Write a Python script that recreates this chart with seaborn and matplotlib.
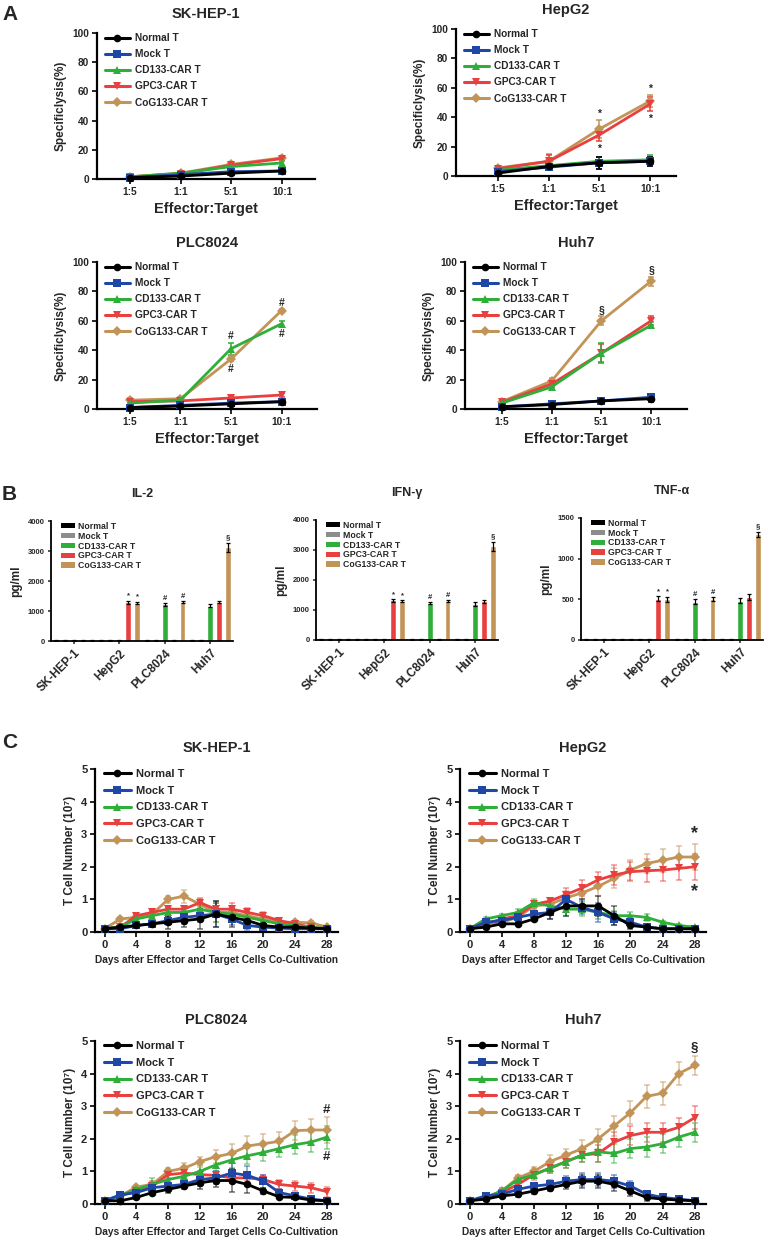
import numpy as np
import pandas as pd
import seaborn as sns
import matplotlib.pyplot as plt
from matplotlib.lines import Line2D
from matplotlib.patches import Patch

# --- DATA ---
groups = ["Normal T", "Mock T", "CD133-CAR T", "GPC3-CAR T", "CoG133-CAR T"]
line_colors = ["#000000", "#1f48a6", "#2fae3a", "#e8403f", "#c39457"]
bar_colors = ["#000000", "#8c8c8c", "#2fae3a", "#e8403f", "#c39457"]
markers = ["o", "s", "^", "v", "D"]

# A: specific lysis (%) by effector:target ratio
et_ratios = ["1:5", "1:1", "5:1", "10:1"]
lysis_skhep1 = [[1, 2, 4, 5.5], [1, 3, 5, 5.5], [1.5, 4, 8.5, 11], [1.5, 3.5, 9.5, 14], [1.5, 4, 10, 14.5]]
lysis_skhep1_sd = [[0.5, 0.5, 1, 1], [0.5, 0.5, 1, 1.5], [0.5, 1, 1.5, 2], [0.5, 1, 1.5, 1.5], [0.5, 1, 1.5, 1.5]]
lysis_hepg2 = [[2, 6.5, 9, 10], [3, 6, 9, 10], [4, 7, 10, 11], [5, 10, 28, 49], [5.5, 10, 32, 51]]
lysis_hepg2_sd = [[1, 1.5, 4, 3], [1, 1.5, 4, 3], [1, 1, 3, 3], [1, 4, 4, 5], [1, 5, 6, 4]]
lysis_plc8024 = [[1, 2, 3.5, 5], [1, 2.5, 4, 5], [4, 6, 41, 58], [5, 5.5, 7.5, 9.5], [6, 7, 34, 67]]
lysis_plc8024_sd = [[0.5, 0.5, 1, 1], [0.5, 0.5, 1, 1], [1, 1, 4, 2], [1, 1, 1, 1.5], [1.5, 1, 1.5, 1]]
lysis_huh7 = [[1.5, 3, 5.5, 7], [1.5, 3.5, 5.5, 8], [4, 15, 38, 57], [4.5, 17, 38, 60], [5, 19, 60, 87]]
lysis_huh7_sd = [[1, 1, 1, 2], [1, 1, 1, 2.5], [1, 2, 7, 2], [1, 2, 6, 3], [1, 2, 3, 3]]

# B: cytokines (pg/ml), one list per T cell group over the four cell lines
cell_lines = ["SK-HEP-1", "HepG2", "PLC8024", "Huh7"]
il2 = [[20, 20, 20, 20], [20, 20, 20, 20], [20, 20, 1220, 1180], [20, 1300, 20, 1300], [20, 1280, 1300, 3120]]
il2_sd = [[8, 8, 8, 8], [8, 8, 8, 8], [8, 8, 40, 60], [8, 50, 8, 40], [8, 30, 30, 150]]
ifng = [[20, 20, 20, 20], [20, 20, 20, 20], [20, 20, 1230, 1200], [20, 1320, 20, 1290], [20, 1290, 1300, 3120]]
ifng_sd = [[8, 8, 8, 8], [8, 8, 8, 8], [8, 8, 30, 60], [8, 40, 8, 40], [8, 30, 30, 150]]
tnfa = [[5, 5, 5, 5], [5, 5, 5, 5], [5, 5, 470, 485], [5, 510, 5, 525], [5, 500, 500, 1300]]
tnfa_sd = [[3, 3, 3, 3], [3, 3, 3, 3], [3, 3, 30, 30], [3, 25, 3, 35], [3, 30, 25, 30]]

# C: T cell number (10^7) over days of co-culture
days = [0, 2, 4, 6, 8, 10, 12, 14, 16, 18, 20, 22, 24, 26, 28]
tc_skhep1 = [
    [0.1, 0.15, 0.2, 0.25, 0.3, 0.35, 0.4, 0.55, 0.45, 0.35, 0.2, 0.15, 0.15, 0.12, 0.1],
    [0.1, 0.1, 0.2, 0.25, 0.35, 0.45, 0.5, 0.55, 0.4, 0.2, 0.15, 0.12, 0.1, 0.1, 0.1],
    [0.1, 0.15, 0.4, 0.5, 0.6, 0.6, 0.7, 0.6, 0.55, 0.45, 0.35, 0.25, 0.2, 0.15, 0.1],
    [0.1, 0.15, 0.5, 0.6, 0.7, 0.7, 0.9, 0.7, 0.7, 0.6, 0.5, 0.35, 0.25, 0.15, 0.1],
    [0.1, 0.4, 0.45, 0.55, 1.0, 1.1, 0.85, 0.6, 0.6, 0.5, 0.4, 0.3, 0.3, 0.28, 0.15],
]
tc_skhep1_sd = [
    [0.02, 0.05, 0.05, 0.1, 0.2, 0.2, 0.3, 0.4, 0.3, 0.2, 0.1, 0.05, 0.05, 0.05, 0.03],
    [0.02, 0.05, 0.05, 0.1, 0.15, 0.2, 0.2, 0.4, 0.2, 0.15, 0.1, 0.05, 0.05, 0.05, 0.03],
    [0.02, 0.05, 0.1, 0.1, 0.15, 0.2, 0.2, 0.3, 0.2, 0.15, 0.1, 0.05, 0.05, 0.05, 0.03],
    [0.02, 0.05, 0.05, 0.1, 0.1, 0.1, 0.15, 0.2, 0.2, 0.15, 0.1, 0.05, 0.05, 0.05, 0.03],
    [0.02, 0.05, 0.05, 0.1, 0.1, 0.2, 0.15, 0.3, 0.2, 0.15, 0.1, 0.05, 0.05, 0.05, 0.03],
]
tc_hepg2 = [
    [0.1, 0.15, 0.25, 0.25, 0.4, 0.6, 0.8, 0.8, 0.8, 0.5, 0.2, 0.15, 0.1, 0.1, 0.1],
    [0.1, 0.3, 0.35, 0.45, 0.55, 0.6, 1.0, 0.75, 0.6, 0.4, 0.3, 0.15, 0.1, 0.1, 0.1],
    [0.1, 0.4, 0.5, 0.6, 0.9, 0.8, 0.7, 0.7, 0.6, 0.5, 0.5, 0.45, 0.3, 0.2, 0.15],
    [0.1, 0.25, 0.4, 0.5, 0.85, 0.95, 1.15, 1.35, 1.6, 1.75, 1.85, 1.88, 1.9, 1.95, 2.0],
    [0.1, 0.25, 0.3, 0.45, 0.8, 0.85, 1.05, 1.2, 1.4, 1.65, 1.9, 2.1, 2.2, 2.3, 2.3],
]
tc_hepg2_sd = [
    [0.02, 0.05, 0.05, 0.05, 0.05, 0.2, 0.3, 0.2, 0.3, 0.3, 0.1, 0.05, 0.05, 0.05, 0.03],
    [0.02, 0.05, 0.05, 0.1, 0.1, 0.2, 0.2, 0.2, 0.3, 0.2, 0.1, 0.05, 0.05, 0.05, 0.03],
    [0.02, 0.05, 0.05, 0.1, 0.1, 0.1, 0.2, 0.2, 0.2, 0.15, 0.1, 0.1, 0.05, 0.05, 0.03],
    [0.02, 0.05, 0.1, 0.1, 0.1, 0.1, 0.2, 0.25, 0.25, 0.3, 0.3, 0.35, 0.35, 0.35, 0.4],
    [0.02, 0.05, 0.05, 0.1, 0.1, 0.1, 0.2, 0.2, 0.3, 0.3, 0.3, 0.3, 0.35, 0.35, 0.4],
]
tc_plc8024 = [
    [0.1, 0.1, 0.2, 0.35, 0.45, 0.55, 0.65, 0.72, 0.72, 0.6, 0.4, 0.22, 0.2, 0.12, 0.1],
    [0.1, 0.28, 0.35, 0.5, 0.55, 0.6, 0.75, 0.8, 0.95, 0.88, 0.7, 0.35, 0.25, 0.15, 0.1],
    [0.1, 0.25, 0.45, 0.6, 0.75, 0.85, 1.0, 1.2, 1.35, 1.48, 1.58, 1.7, 1.82, 1.9, 2.05],
    [0.1, 0.25, 0.4, 0.55, 0.9, 0.95, 0.9, 0.88, 0.8, 0.8, 0.75, 0.6, 0.55, 0.5, 0.38],
    [0.1, 0.25, 0.52, 0.6, 1.0, 1.1, 1.3, 1.45, 1.55, 1.78, 1.85, 1.92, 2.25, 2.27, 2.27],
]
tc_plc8024_sd = [
    [0.02, 0.05, 0.05, 0.05, 0.1, 0.1, 0.2, 0.2, 0.35, 0.25, 0.1, 0.05, 0.05, 0.05, 0.03],
    [0.02, 0.05, 0.05, 0.1, 0.1, 0.1, 0.2, 0.2, 0.3, 0.3, 0.2, 0.1, 0.05, 0.05, 0.03],
    [0.02, 0.05, 0.1, 0.2, 0.15, 0.15, 0.2, 0.2, 0.25, 0.25, 0.25, 0.25, 0.3, 0.3, 0.35],
    [0.02, 0.05, 0.05, 0.1, 0.1, 0.1, 0.1, 0.1, 0.1, 0.1, 0.15, 0.15, 0.15, 0.15, 0.15],
    [0.02, 0.05, 0.05, 0.1, 0.1, 0.15, 0.15, 0.2, 0.3, 0.3, 0.3, 0.3, 0.3, 0.35, 0.4],
]
tc_huh7 = [
    [0.1, 0.15, 0.25, 0.3, 0.4, 0.5, 0.6, 0.7, 0.7, 0.6, 0.4, 0.2, 0.15, 0.12, 0.1],
    [0.1, 0.25, 0.3, 0.45, 0.55, 0.6, 0.7, 0.75, 0.75, 0.7, 0.55, 0.3, 0.2, 0.15, 0.1],
    [0.1, 0.2, 0.4, 0.75, 0.9, 1.1, 1.3, 1.5, 1.6, 1.55, 1.7, 1.75, 1.85, 2.05, 2.2],
    [0.1, 0.2, 0.35, 0.6, 0.9, 1.1, 1.3, 1.5, 1.55, 1.9, 2.1, 2.2, 2.2, 2.35, 2.65],
    [0.1, 0.2, 0.4, 0.8, 1.0, 1.3, 1.5, 1.7, 2.0, 2.4, 2.8, 3.3, 3.4, 4.0, 4.25],
]
tc_huh7_sd = [
    [0.02, 0.05, 0.05, 0.1, 0.1, 0.1, 0.15, 0.2, 0.2, 0.2, 0.15, 0.1, 0.05, 0.05, 0.03],
    [0.02, 0.05, 0.05, 0.1, 0.1, 0.15, 0.15, 0.2, 0.2, 0.2, 0.15, 0.1, 0.05, 0.05, 0.03],
    [0.02, 0.05, 0.1, 0.1, 0.1, 0.15, 0.2, 0.2, 0.3, 0.3, 0.3, 0.3, 0.3, 0.3, 0.3],
    [0.02, 0.05, 0.1, 0.1, 0.15, 0.15, 0.2, 0.2, 0.25, 0.3, 0.3, 0.3, 0.3, 0.3, 0.35],
    [0.02, 0.05, 0.1, 0.1, 0.15, 0.2, 0.2, 0.25, 0.3, 0.3, 0.35, 0.35, 0.35, 0.35, 0.3],
]

# significance marks: (group index, x value, symbol, above/below)
marks_a_hepg2 = [(4, 2, "*", "above"), (3, 2, "*", "below"), (4, 3, "*", "above"), (3, 3, "*", "below")]
marks_a_plc8024 = [(2, 2, "#", "above"), (4, 2, "#", "below"), (4, 3, "#", "above"), (2, 3, "#", "below")]
marks_a_huh7 = [(4, 2, "§", "above"), (4, 3, "§", "above")]
marks_b = [(3, 1, "*"), (4, 1, "*"), (2, 2, "#"), (4, 2, "#"), (4, 3, "§")]
marks_c_hepg2 = [(4, 28, "*", "above"), (3, 28, "*", "below")]
marks_c_plc8024 = [(4, 28, "#", "above"), (2, 28, "#", "below")]
marks_c_huh7 = [(4, 28, "§", "above")]

# --- STYLE ---
sns.set_theme(style="ticks")
plt.rcParams['font.family'] = ['Liberation Sans', 'DejaVu Sans']
plt.rcParams['font.weight'] = 'bold'
plt.rcParams['axes.labelweight'] = 'bold'
plt.rcParams['axes.titleweight'] = 'bold'
plt.rcParams['axes.linewidth'] = 1.6
plt.rcParams['xtick.major.width'] = 1.4
plt.rcParams['ytick.major.width'] = 1.4
plt.rcParams['xtick.major.size'] = 3.5
plt.rcParams['ytick.major.size'] = 3.5
plt.rcParams['xtick.major.pad'] = 2
plt.rcParams['ytick.major.pad'] = 2
plt.rcParams['axes.edgecolor'] = 'black'

W, H = 765, 1242
fig = plt.figure(figsize=(W / 100, H / 100), dpi=100)


def add_ax(l, t, r, b):
    return fig.add_axes([l / W, 1 - b / H, (r - l) / W, (b - t) / H])


def long_df(xvals, series):
    rows = []
    for g, ys in zip(groups, series):
        for x, y in zip(xvals, ys):
            rows.append({"x": x, "y": y, "group": g})
    return pd.DataFrame(rows)


def line_panel(ax, xvals, means, sds, marks, err_alpha, fs_leg, mark_fs):
    df = long_df(xvals, means)
    sns.lineplot(data=df, x="x", y="y", hue="group", style="group", hue_order=groups,
                 style_order=groups, palette=line_colors, markers=markers, dashes=False,
                 lw=2, markersize=5.5, markeredgewidth=0, errorbar=None, legend=False, ax=ax)
    for i, ln in enumerate(ax.lines[:len(groups)]):
        ln.set_zorder(10 - i)
        ln.set_clip_on(False)
    for i in range(len(groups)):
        ax.errorbar(xvals, means[i], yerr=sds[i], fmt="none", ecolor=line_colors[i],
                    elinewidth=1.1, capsize=2.2, capthick=1.1, alpha=err_alpha, zorder=5 - i * 0.1)
    for gi, x, sym, where in marks:
        k = list(xvals).index(x)
        if where == "above":
            y = means[gi][k] + sds[gi][k]
            ax.annotate(sym, (x, y), xytext=(0, 1), textcoords="offset points",
                        ha="center", va="bottom", fontsize=mark_fs)
        else:
            y = means[gi][k] - sds[gi][k]
            ax.annotate(sym, (x, y), xytext=(0, -2), textcoords="offset points",
                        ha="center", va="top", fontsize=mark_fs)
    handles = [Line2D([], [], color=c, marker=m, lw=2.2, markersize=5.5, mew=0)
               for c, m in zip(line_colors, markers)]
    ax.legend(handles, groups, loc="upper left", bbox_to_anchor=(0.01, 1.04), frameon=False,
              prop=dict(weight='bold', size=fs_leg), handlelength=2.4, labelspacing=0.6,
              handletextpad=0.5, borderaxespad=0.2)
    sns.despine(ax=ax)
    ax.set_xlabel("")
    ax.set_ylabel("")


def bar_panel(ax, means, sds, yticks, title):
    rows = []
    for g, vals in zip(groups, means):
        for c, v in zip(cell_lines, vals):
            rows.append({"line": c, "val": v, "group": g})
    df = pd.DataFrame(rows)
    sns.barplot(data=df, x="line", y="val", hue="group", order=cell_lines, hue_order=groups,
                palette=bar_colors, width=0.98, gap=0.35, errorbar=None, saturation=1,
                legend=False, ax=ax)
    # error bars at the bars' own positions (sorted left to right)
    bars = sorted(ax.patches, key=lambda p: p.get_x())
    flat = [(ci, gi) for ci in range(len(cell_lines)) for gi in range(len(groups))]
    centers = {}
    for p, (ci, gi) in zip(bars, flat):
        xc = p.get_x() + p.get_width() / 2
        centers[(gi, ci)] = xc
        ax.errorbar(xc, means[gi][ci], yerr=sds[gi][ci], fmt="none", ecolor="black",
                    elinewidth=0.9, capsize=1.2, capthick=0.9, zorder=4)
    for gi, ci, sym in marks_b:
        ax.annotate(sym, (centers[(gi, ci)], means[gi][ci] + sds[gi][ci]), xytext=(0, 1),
                    textcoords="offset points", ha="center", va="bottom", fontsize=5.5)
    handles = [Patch(facecolor=c, edgecolor='none') for c in bar_colors]
    ax.legend(handles, groups, loc="upper left", bbox_to_anchor=(0.03, 1.03), frameon=False,
              prop=dict(weight='bold', size=6.3), handlelength=1.6, handleheight=0.6,
              labelspacing=0.1, handletextpad=0.4, borderaxespad=0.1)
    ax.set_xlim(-0.5, 3.5)
    ax.set_ylim(0, yticks[-1])
    ax.set_yticks(yticks)
    ax.tick_params(axis='y', labelsize=5.5, width=1.1, length=2.5)
    ax.tick_params(axis='x', labelsize=8.5, width=1.1, length=2.5)
    plt.setp(ax.get_xticklabels(), rotation=45, ha="right", rotation_mode="anchor")
    ax.set_xlabel("")
    ax.set_ylabel("pg/ml", fontsize=8.5)
    ax.set_title(title, fontsize=9, pad=17)
    for s in ["left", "bottom"]:
        ax.spines[s].set_linewidth(1.3)
    sns.despine(ax=ax)


# --- A: cytotoxicity ---
pos = list(range(len(et_ratios)))
a_panels = [
    ((97, 33, 315, 179), lysis_skhep1, lysis_skhep1_sd, [], "SK-HEP-1", (-0.65, 3.65)),
    ((456, 29, 676, 176), lysis_hepg2, lysis_hepg2_sd, marks_a_hepg2, "HepG2", (-0.83, 3.51)),
    ((97, 262, 317, 409), lysis_plc8024, lysis_plc8024_sd, marks_a_plc8024, "PLC8024", (-0.65, 3.7)),
    ((465, 262, 687, 409), lysis_huh7, lysis_huh7_sd, marks_a_huh7, "Huh7", (-0.74, 3.72)),
]
for box, m, s, mk, title, xl in a_panels:
    ax = add_ax(*box)
    line_panel(ax, pos, m, s, mk, 1.0, 7.3, 7.5)
    ax.set_xlim(*xl)
    ax.set_ylim(0, 100)
    ax.set_yticks([0, 20, 40, 60, 80, 100])
    ax.set_xticks(pos)
    ax.set_xticklabels(et_ratios)
    ax.tick_params(labelsize=7.3)
    ax.set_ylabel("Specificlysis(%)", fontsize=8.5)
    ax.set_xlabel("Effector:Target", fontsize=10.5, labelpad=4)
    ax.set_title(title, fontsize=10.5, pad=11)

# --- B: cytokines ---
bar_panel(add_ax(51, 521, 233, 641), il2, il2_sd, [0, 1000, 2000, 3000, 4000], "IL-2")
bar_panel(add_ax(316, 520, 498, 640), ifng, ifng_sd, [0, 1000, 2000, 3000, 4000], "IFN-γ")
bar_panel(add_ax(581, 518, 763, 640), tnfa, tnfa_sd, [0, 500, 1000, 1500], "TNF-α")

# --- C: T cell proliferation ---
c_panels = [
    ((95, 769, 338, 932), tc_skhep1, tc_skhep1_sd, [], "SK-HEP-1"),
    ((460, 769, 706, 932), tc_hepg2, tc_hepg2_sd, marks_c_hepg2, "HepG2"),
    ((95, 1041, 338, 1204), tc_plc8024, tc_plc8024_sd, marks_c_plc8024, "PLC8024"),
    ((460, 1041, 706, 1204), tc_huh7, tc_huh7_sd, marks_c_huh7, "Huh7"),
]
for box, m, s, mk, title in c_panels:
    ax = add_ax(*box)
    sym_fs = 13 if mk and mk[0][2] == "*" else 9.5
    line_panel(ax, days, m, s, mk, 0.55, 8, sym_fs)
    ax.set_xlim(-1.2, 29.4)
    ax.set_ylim(0, 5)
    ax.set_yticks([0, 1, 2, 3, 4, 5])
    ax.set_xticks(days[::2])
    ax.tick_params(labelsize=8)
    ax.set_ylabel("T Cell Number (10⁷)", fontsize=8.5)
    ax.set_xlabel("Days after Effector and Target Cells Co-Cultivation", fontsize=7.3, labelpad=4)
    ax.set_title(title, fontsize=10.5, pad=12)

# panel letters
fig.text(2 / W, 1 - 15 / H, "A", fontsize=15, weight='bold', va='center')
fig.text(2 / W, 1 - 495 / H, "B", fontsize=15, weight='bold', va='center')
fig.text(2 / W, 1 - 742 / H, "C", fontsize=15, weight='bold', va='center')

fig.savefig("out.png", dpi=100)
plt.close()
